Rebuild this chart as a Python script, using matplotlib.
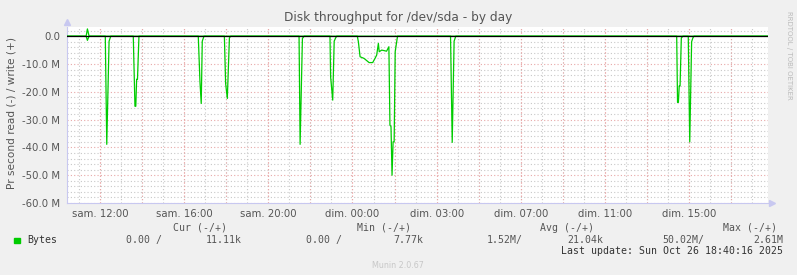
"""
Munin disk throughput for /dev/sda - by day
"""
import matplotlib
matplotlib.use("Agg")
import matplotlib.pyplot as plt
from matplotlib.ticker import MultipleLocator, FixedLocator, FuncFormatter

# hours since sam. 12:00 (real elapsed time, DST change on sunday 03:00)
read_t = [-1.57,
          -0.66, -0.60, -0.52,
          0.25, 0.32, 0.43, 0.51,
          1.58, 1.66, 1.70, 1.74, 1.78, 1.85,
          4.67, 4.75, 4.81, 4.86, 4.94,
          5.91, 5.97, 6.05, 6.15, 6.21,
          9.46, 9.51, 9.62, 9.70,
          10.93, 10.96, 11.06, 11.13, 11.20, 11.25,
          12.23, 12.28, 12.36, 12.55, 12.79, 12.96, 13.07, 13.15, 13.23, 13.27,
          13.39, 13.62, 13.73, 13.78, 13.83, 13.88, 13.93, 13.98, 14.03, 14.14,
          16.66, 16.74, 16.83, 16.91,
          27.41, 27.45, 27.49, 27.53, 27.57, 27.63, 27.71,
          27.96, 28.03, 28.12, 28.18, 28.23,
          31.75]
# read in MB/s, drawn negative
read_v = [0,
          0, -1.5, 0,
          0, -38.9, -1.8, 0,
          0, -25.2, -25.2, -15.5, -15.5, 0,
          0, -16.4, -24.2, -1.8, 0,
          0, -17.0, -22.4, -0.6, 0,
          0, -38.9, -0.8, 0,
          0, -14.6, -23.0, -1.8, -0.6, 0,
          0, -2.0, -7.4, -8.0, -9.5, -9.5, -8.0, -6.8, -2.6, -5.6,
          -5.0, -5.4, -3.8, -32.0, -32.5, -50.0, -38.0, -38.0, -5.6, 0,
          0, -38.2, -1.8, 0,
          0, -23.8, -23.8, -17.9, -17.9, -0.6, 0,
          0, -38.0, -2.0, -0.6, 0,
          0]
write_t = [-1.57, -0.66, -0.60, -0.52, 31.75]
write_v = [0, 0, 2.61, 0, 0]

tick_hours = [0, 4, 8, 12, 16, 20, 24, 28]
tick_labels = ["sam. 12:00", "sam. 16:00", "sam. 20:00", "dim. 00:00",
               "dim. 03:00", "dim. 07:00", "dim. 11:00", "dim. 15:00"]

legend_head = [("Cur (-/+)", 173), ("Min (-/+)", 357), ("Avg (-/+)", 540), ("Max (-/+)", 723)]
legend_vals = [("0.00 /", 126), ("11.11k", 206), ("0.00 /", 306), ("7.77k", 393),
               ("1.52M/", 487), ("21.04k", 567), ("50.02M/", 662), ("2.61M", 753)]

W, H = 797, 275
fig = plt.figure(figsize=(W / 100, H / 100), dpi=100, facecolor="#f0f0f0")
ax = fig.add_axes([67 / W, 1 - 203 / H, (768 - 67) / W, (203 - 27) / H])
ax.set_facecolor("white")

ax.plot(read_t, read_v, color="#00cc00", lw=0.9, zorder=3)
ax.plot(write_t, write_v, color="#00cc00", lw=0.9, zorder=3)
ax.axhline(0, color="black", lw=0.9, zorder=4)

ax.set_xlim(-1.57, 31.75)
ax.set_ylim(-60, 3.3)

ax.xaxis.set_major_locator(MultipleLocator(2))
ax.xaxis.set_minor_locator(MultipleLocator(1))
ax.yaxis.set_major_locator(MultipleLocator(10))
ax.yaxis.set_minor_locator(MultipleLocator(2))
ax.grid(which="minor", color="#c8c8c8", ls=(0, (1, 2)), lw=0.8)
ax.grid(which="major", color="#e8a8a8", ls=(0, (1, 2)), lw=0.8)
ax.set_axisbelow(True)

# labels only every 4 hours
ax.set_xticks(tick_hours, minor=False)
ax.xaxis.set_major_formatter(FuncFormatter(lambda v, p: ""))
for h, lab in zip(tick_hours, tick_labels):
    ax.text(h, -62.3, lab, ha="center", va="top", fontsize=7.3, color="#555555")
for h in range(0, 32, 2):
    ax.axvline(h, color="#e8a8a8", ls=(0, (1, 2)), lw=0.8, zorder=1)

ax.yaxis.set_major_formatter(FuncFormatter(lambda v, p: "0.0" if v == 0 else "%.1f M" % v))
ax.tick_params(axis="y", which="both", length=0, pad=5, labelsize=7.3, labelcolor="#555555")
ax.tick_params(axis="x", which="both", length=0)

for s in ["top", "right"]:
    ax.spines[s].set_visible(False)
for s in ["left", "bottom"]:
    ax.spines[s].set_color("#c8c8f0")
ax.plot([0], [1.03], marker="^", ms=5, color="#c8c8f0", transform=ax.transAxes, clip_on=False)
ax.plot([1.005], [0], marker=">", ms=5, color="#c8c8f0", transform=ax.transAxes, clip_on=False)

fig.text(398 / W, 1 - 18 / H, "Disk throughput for /dev/sda - by day",
         ha="center", va="center", fontsize=8.7, color="#555555")
fig.text(12 / W, 1 - 113 / H, "Pr second read (-) / write (+)", rotation=90,
         ha="center", va="center", fontsize=7.6, color="#555555")
fig.text(789 / W, 1 - 55 / H, "RRDTOOL / TOBI OETIKER", rotation=-90,
         ha="center", va="center", fontsize=5, color="#bbbbbb")

mono = "DejaVu Sans Mono"
for txt, x in legend_head:
    fig.text(x / W, 1 - 228 / H, txt, family=mono, fontsize=7.1, color="#555555", va="center")
fig.patches.append(plt.Rectangle((14 / W, 1 - 243 / H), 5.5 / W, 5.5 / H,
                                 transform=fig.transFigure, color="#00cc00"))
fig.text(27 / W, 1 - 240 / H, "Bytes", family=mono, fontsize=7.1, color="#333333", va="center")
for txt, x in legend_vals:
    fig.text(x / W, 1 - 240 / H, txt, family=mono, fontsize=7.1, color="#555555", va="center")
fig.text(783 / W, 1 - 251 / H, "Last update: Sun Oct 26 18:40:16 2025", family=mono,
         fontsize=7.1, color="#333333", va="center", ha="right")
fig.text(398 / W, 1 - 265 / H, "Munin 2.0.67", fontsize=5.8, color="#c8c8c8",
         ha="center", va="center")

fig.savefig("out.png", dpi=100, facecolor=fig.get_facecolor())
